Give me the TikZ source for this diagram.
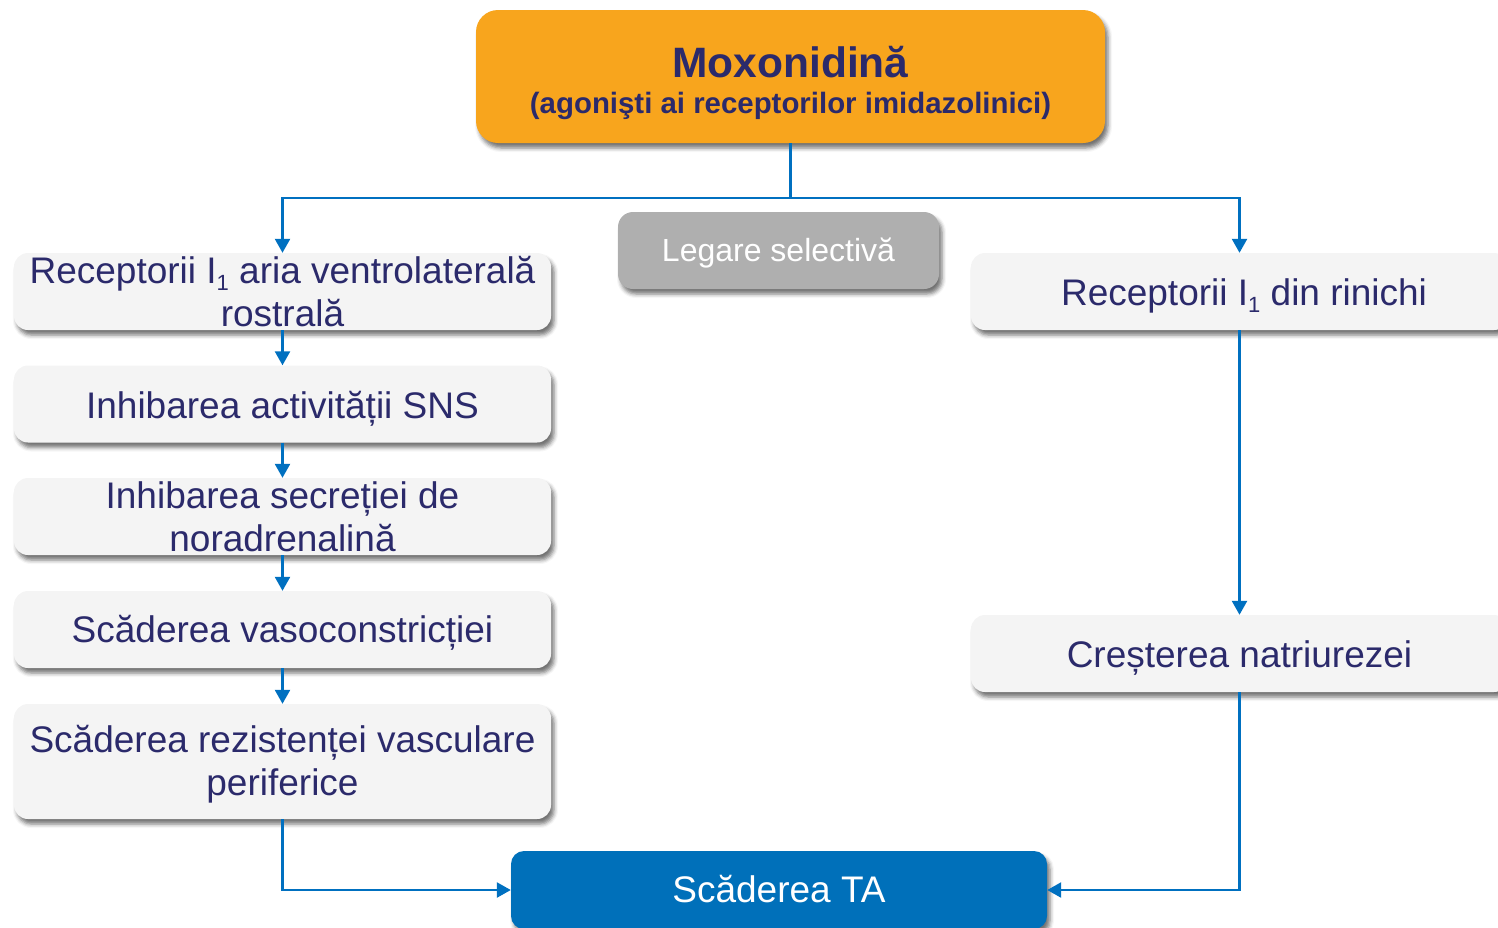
\documentclass[tikz,border=0pt]{standalone}
\usepackage{fontspec}
\setmainfont{Liberation Sans}
\usetikzlibrary{arrows.meta,shadows.blur}

\definecolor{orangebox}{HTML}{F8A51D}
\definecolor{lightbox}{HTML}{F4F4F4}
\definecolor{greybox}{HTML}{AFAFAF}
\definecolor{bluebox}{HTML}{0070BA}
\definecolor{navy}{HTML}{2B2A6B}
\definecolor{linkblue}{HTML}{0070C0}

% small lowered index, as in "I_1"
\newcommand\subidx[1]{\raisebox{-7pt}{\fontsize{22}{22}\selectfont #1}}
% two centred lines whose baseline is that of the first line
\newcommand\twolines[2]{\begin{tabular}[t]{@{}c@{}}#1\\#2\end{tabular}}

\begin{document}
\begin{tikzpicture}[x=1pt,y=-1pt,
  softshadow/.style={blur shadow={shadow xshift=3pt,shadow yshift=-5pt,
      shadow blur radius=4pt,shadow opacity=55}},
  flowbox/.style={softshadow,fill=lightbox,rounded corners=14pt,
      minimum width=537pt,minimum height=77pt,inner sep=0pt},
  txt/.style={text=navy,anchor=base,inner sep=0pt,
      font=\fontsize{37}{43}\selectfont},
  link/.style={draw=linkblue,line width=2.5pt,
      -{Triangle[length=14pt,width=15pt]}}
]
\useasboundingbox (0,0) rectangle (1498,927);
\clip (0,0) rectangle (1498,927);

% ---- boxes ----
\node[softshadow,fill=orangebox,rounded corners=22pt,
      minimum width=629pt,minimum height=133pt,inner sep=0pt] (top) at (790.5,76.5) {};
\node[softshadow,fill=greybox,rounded corners=15pt,
      minimum width=321pt,minimum height=77pt,inner sep=0pt] (sel) at (778.5,250.5) {};
\node[softshadow,fill=bluebox,rounded corners=13pt,
      minimum width=536pt,minimum height=78pt,inner sep=0pt] (ta) at (779,890) {};

\node[flowbox] (r1) at (282.5,291.5) {};
\node[flowbox] (r2) at (282.5,404) {};
\node[flowbox] (r3) at (282.5,516.5) {};
\node[flowbox] (r4) at (282.5,629.5) {};
\node[flowbox,minimum height=115pt] (r5) at (282.5,761.5) {};

\node[flowbox] (k1) at (1239.5,291.5) {};
\node[flowbox] (k2) at (1239.5,653.5) {};

% ---- connectors ----
\coordinate (split) at (790.5,198);
\draw[link] (top.south) -- (split) -| (r1.north);
\draw[link] (split) -| (k1.north);
\draw[link] (r1.south) -- (r2.north);
\draw[link] (r2.south) -- (r3.north);
\draw[link] (r3.south) -- (r4.north);
\draw[link] (r4.south) -- (r5.north);
\draw[link] (r5.south) |- (ta.west);
\draw[link] (k1.south) -- (k2.north);
\draw[link] (k2.south) |- (ta.east);

% ---- texts ----
\node[txt,text=navy,font=\fontsize{42.5}{43}\selectfont\bfseries] (title) at (790.5,77) {Moxonidină};
\node[txt,text=navy,font=\fontsize{29.4}{30}\selectfont\bfseries] (subtitle) at (790.5,113) {(agonişti ai receptorilor imidazolinici)};

\node[txt,text=white,font=\fontsize{32}{32}\selectfont] (tsel) at (778.5,261) {Legare selectivă};
\node[txt,text=white] (tta) at (779,902) {Scăderea TA};

\node[txt] (t1) at (282.5,283) {\twolines{Receptorii I\subidx{1} aria ventrolaterală}{rostrală}};
\node[txt] (t2) at (282.5,418) {Inhibarea activității SNS};
\node[txt] (t3) at (282.5,508) {\twolines{Inhibarea secreției de}{noradrenalină}};
\node[txt] (t4) at (282.5,642) {Scăderea vasoconstricției};
\node[txt] (t5) at (282.5,752) {\twolines{Scăderea rezistenței vasculare}{periferice}};

\node[txt] (tk1) at (1244,305) {Receptorii I\subidx{1} din rinichi};
\node[txt] (tk2) at (1239.5,667) {Creșterea natriurezei};
\end{tikzpicture}
\end{document}
